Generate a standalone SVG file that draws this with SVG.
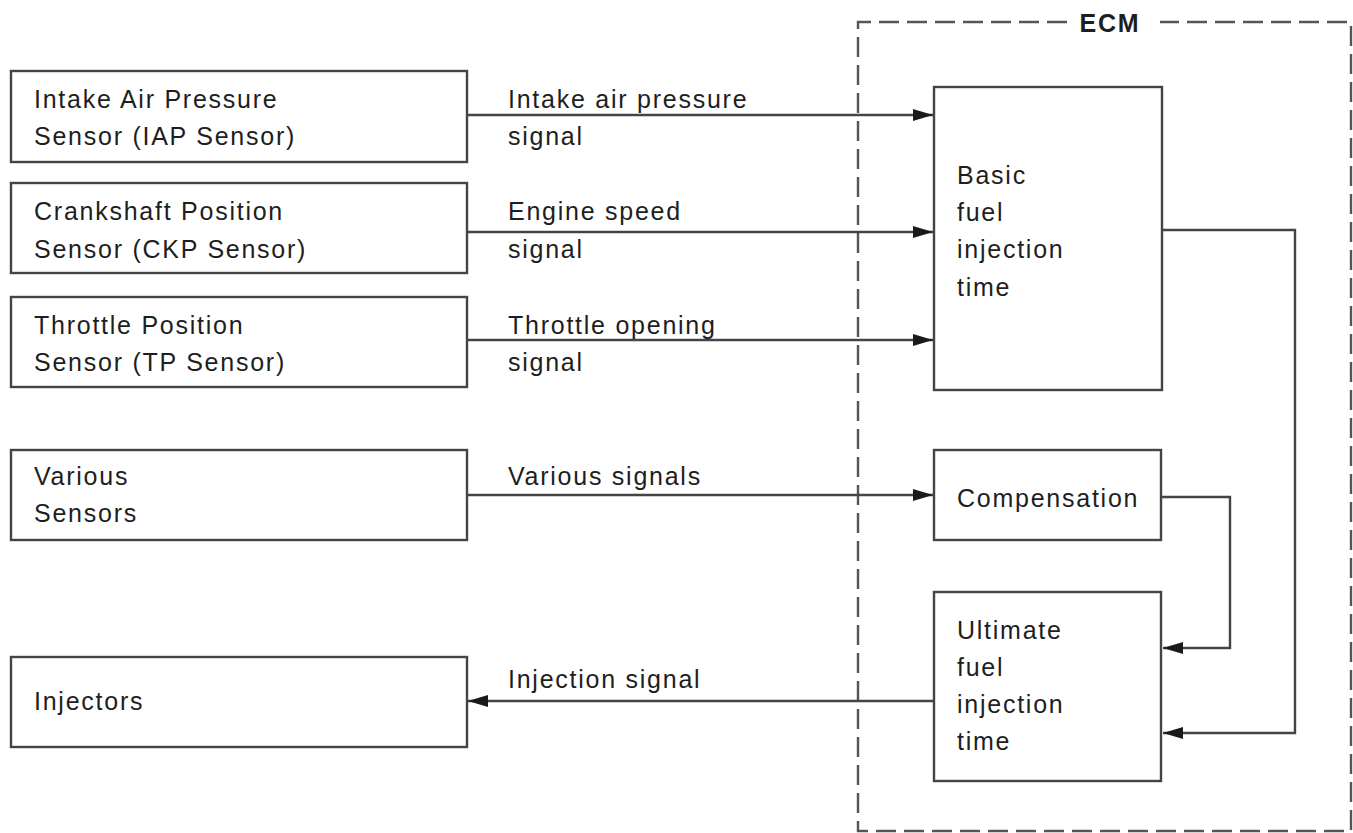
<svg xmlns="http://www.w3.org/2000/svg" width="1353" height="833" viewBox="0 0 1353 833">
<style>
.box{fill:#fff;stroke:#444;stroke-width:2.4}
.t{font-family:"Liberation Sans",Arial,sans-serif;font-size:25px;letter-spacing:1.75px;fill:#1e1e1e}
.c{fill:none;stroke:#444;stroke-width:2.4}
</style>
<defs>
<marker id="ah" markerWidth="20" markerHeight="12" refX="20" refY="6" orient="auto" markerUnits="userSpaceOnUse">
<path d="M0,0 L20,6 L0,12 Z" fill="#1a1a1a"/>
</marker>
</defs>
<rect width="1353" height="833" fill="#fff"/>
<g id="ecm">
<path d="M1067,22 L858,22 L858,831 L1351,831 L1351,22 L1160,22" fill="none" stroke="#555" stroke-width="2.4" stroke-dasharray="20,8"/>
<text x="1110" y="32" text-anchor="middle" class="t" font-weight="bold" font-size="24" letter-spacing="2">ECM</text>
</g>
<g id="iap"><rect class="box" x="11" y="71" width="456" height="91"/><text class="t" x="34" y="108">Intake Air Pressure</text><text class="t" x="34" y="145">Sensor (IAP Sensor)</text></g>
<g id="ckp"><rect class="box" x="11" y="183" width="456" height="90"/><text class="t" x="34" y="220">Crankshaft Position</text><text class="t" x="34" y="258">Sensor (CKP Sensor)</text></g>
<g id="tp"><rect class="box" x="11" y="297" width="456" height="90"/><text class="t" x="34" y="334">Throttle Position</text><text class="t" x="34" y="371">Sensor (TP Sensor)</text></g>
<g id="various"><rect class="box" x="11" y="450" width="456" height="90"/><text class="t" x="34" y="485">Various</text><text class="t" x="34" y="522">Sensors</text></g>
<g id="injectors"><rect class="box" x="11" y="657" width="456" height="90"/><text class="t" x="34" y="710">Injectors</text></g>
<g id="basic"><rect class="box" x="934" y="87" width="228" height="303"/><text class="t" x="957" y="184">Basic</text><text class="t" x="957" y="221">fuel</text><text class="t" x="957" y="258">injection</text><text class="t" x="957" y="296">time</text></g>
<g id="comp"><rect class="box" x="934" y="450" width="227" height="90"/><text class="t" x="957" y="507">Compensation</text></g>
<g id="ultimate"><rect class="box" x="934" y="592" width="227" height="189"/><text class="t" x="957" y="639">Ultimate</text><text class="t" x="957" y="676">fuel</text><text class="t" x="957" y="713">injection</text><text class="t" x="957" y="750">time</text></g>
<g id="connectors">
<path class="c" d="M467,115 L933,115" marker-end="url(#ah)"/>
<path class="c" d="M467,232 L933,232" marker-end="url(#ah)"/>
<path class="c" d="M467,340 L933,340" marker-end="url(#ah)"/>
<path class="c" d="M467,495 L933,495" marker-end="url(#ah)"/>
<path class="c" d="M934,701 L468,701" marker-end="url(#ah)"/>
<path class="c" d="M1162,230 L1295,230 L1295,733 L1163,733" marker-end="url(#ah)"/>
<path class="c" d="M1161,497 L1230,497 L1230,648 L1163,648" marker-end="url(#ah)"/>
<text class="t" x="508" y="108">Intake air pressure</text><text class="t" x="508" y="145">signal</text>
<text class="t" x="508" y="220">Engine speed</text><text class="t" x="508" y="258">signal</text>
<text class="t" x="508" y="334">Throttle opening</text><text class="t" x="508" y="371">signal</text>
<text class="t" x="508" y="485">Various signals</text>
<text class="t" x="508" y="688">Injection signal</text>
</g>
</svg>
